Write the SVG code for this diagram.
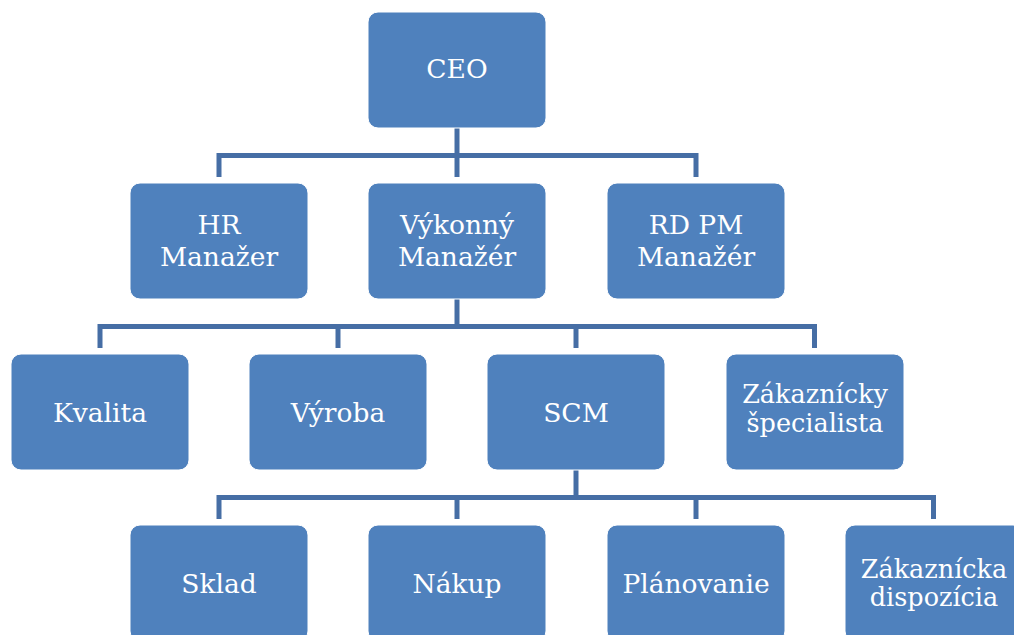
<svg xmlns="http://www.w3.org/2000/svg" width="1014" height="635" viewBox="0 0 1014 635">
  <style>
    .box { fill: #4F81BD; stroke: #ffffff; stroke-width: 1; }
    .lbl { fill: #ffffff; font-family: "DejaVu Serif", "Liberation Serif", serif; font-size: 26.5px; text-anchor: middle; }
    .sm { font-size: 25.5px; }
    .conn { fill: none; stroke: #466EA5; stroke-width: 5; stroke-linejoin: miter; stroke-linecap: butt; }
  </style>
  <rect width="1014" height="635" fill="#ffffff"/>
  <g id="connectors">
    <path class="conn" d="M457,128 V177"/>
    <path class="conn" d="M219,177 V155.5 H696 V177"/>
    <path class="conn" d="M457,299 V326.5"/>
    <path class="conn" d="M100,348 V326.5 H814.5 V348"/>
    <path class="conn" d="M338,326.5 V348"/>
    <path class="conn" d="M576,326.5 V348"/>
    <path class="conn" d="M576,470 V497.5"/>
    <path class="conn" d="M219,519 V497.5 H933.5 V519"/>
    <path class="conn" d="M457,497.5 V519"/>
    <path class="conn" d="M696,497.5 V519"/>
  </g>
  <g id="ceo">
    <rect class="box" x="368" y="12" width="178" height="116" rx="10"/>
    <text class="lbl" x="457" y="78">CEO</text>
  </g>
  <g id="hr">
    <rect class="box" x="130" y="183" width="178" height="116" rx="10"/>
    <text class="lbl" x="219" y="234">HR</text>
    <text class="lbl" x="219" y="266">Manažer</text>
  </g>
  <g id="vykonny">
    <rect class="box" x="368" y="183" width="178" height="116" rx="10"/>
    <text class="lbl" x="457" y="234">Výkonný</text>
    <text class="lbl" x="457" y="266">Manažér</text>
  </g>
  <g id="rdpm">
    <rect class="box" x="607" y="183" width="178" height="116" rx="10"/>
    <text class="lbl" x="696" y="234">RD PM</text>
    <text class="lbl" x="696" y="266">Manažér</text>
  </g>
  <g id="kvalita">
    <rect class="box" x="11" y="354" width="178" height="116" rx="10"/>
    <text class="lbl" x="100" y="422">Kvalita</text>
  </g>
  <g id="vyroba">
    <rect class="box" x="249" y="354" width="178" height="116" rx="10"/>
    <text class="lbl" x="338" y="422">Výroba</text>
  </g>
  <g id="scm">
    <rect class="box" x="487" y="354" width="178" height="116" rx="10"/>
    <text class="lbl" x="576" y="422">SCM</text>
  </g>
  <g id="zakaznicky">
    <rect class="box" x="726" y="354" width="178" height="116" rx="10"/>
    <text class="lbl sm" x="815" y="403">Zákaznícky</text>
    <text class="lbl sm" x="815" y="432">špecialista</text>
  </g>
  <g id="sklad">
    <rect class="box" x="130" y="525" width="178" height="116" rx="10"/>
    <text class="lbl" x="219" y="593">Sklad</text>
  </g>
  <g id="nakup">
    <rect class="box" x="368" y="525" width="178" height="116" rx="10"/>
    <text class="lbl" x="457" y="593">Nákup</text>
  </g>
  <g id="planovanie">
    <rect class="box" x="607" y="525" width="178" height="116" rx="10"/>
    <text class="lbl" x="696" y="593">Plánovanie</text>
  </g>
  <g id="zakaznicka">
    <rect class="box" x="845" y="525" width="178" height="116" rx="10"/>
    <text class="lbl sm" x="934" y="578">Zákaznícka</text>
    <text class="lbl sm" x="934" y="606">dispozícia</text>
  </g>
</svg>
